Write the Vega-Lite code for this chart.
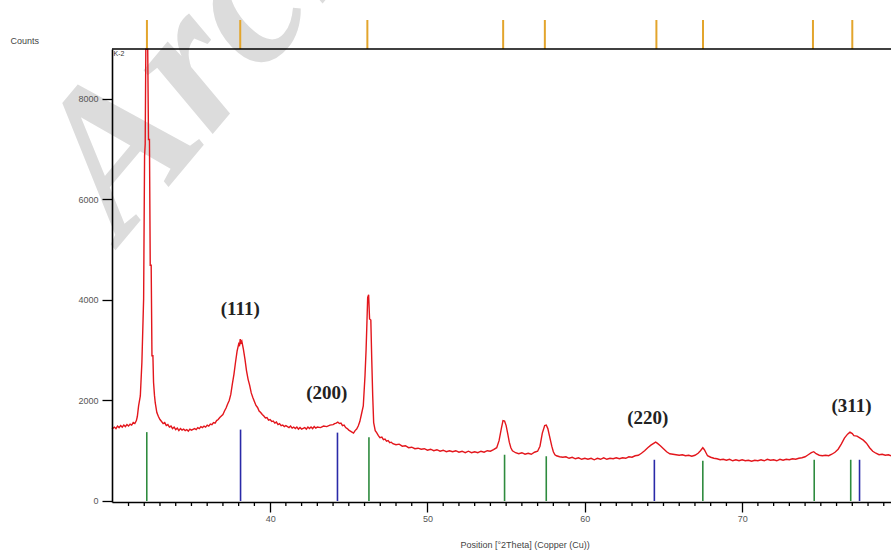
{
  "$schema": "https://vega.github.io/schema/vega-lite/v6.json",
  "width": 779,
  "height": 453,
  "autosize": {"type": "none"},
  "padding": {"left": 112, "top": 49, "right": 0, "bottom": 49},
  "background": "white",
  "config": {
    "view": {"stroke": null},
    "axis": {"labelFont": "Liberation Sans", "titleFont": "Liberation Sans", "grid": false}
  },
  "datasets": {
    "curve": [
      {"t":29.95,"c":1430},{"t":30.1,"c":1470},{"t":30.2,"c":1440},{"t":30.3,"c":1490},{"t":30.4,"c":1460},{"t":30.5,"c":1500},{"t":30.6,"c":1470},{"t":30.7,"c":1510},{"t":30.8,"c":1480},{"t":30.9,"c":1520},
      {"t":31.0,"c":1490},{"t":31.1,"c":1530},{"t":31.2,"c":1510},{"t":31.3,"c":1560},{"t":31.4,"c":1540},{"t":31.5,"c":1600},{"t":31.56,"c":1680},{"t":31.64,"c":1890},{"t":31.75,"c":2090},{"t":31.85,"c":2760},
      {"t":31.96,"c":4020},{"t":32.02,"c":6860},{"t":32.06,"c":7100},{"t":32.1,"c":8985},{"t":32.22,"c":8985},{"t":32.27,"c":7190},{"t":32.33,"c":7190},{"t":32.38,"c":4690},{"t":32.44,"c":4690},{"t":32.49,"c":2890},
      {"t":32.55,"c":2890},{"t":32.59,"c":2360},{"t":32.65,"c":2100},{"t":32.7,"c":1950},{"t":32.8,"c":1760},{"t":32.9,"c":1680},{"t":33.0,"c":1620},{"t":33.1,"c":1580},{"t":33.2,"c":1540},{"t":33.3,"c":1560},
      {"t":33.4,"c":1500},{"t":33.5,"c":1520},{"t":33.6,"c":1470},{"t":33.7,"c":1490},{"t":33.8,"c":1440},{"t":33.9,"c":1470},{"t":34.0,"c":1420},{"t":34.1,"c":1450},{"t":34.2,"c":1400},{"t":34.3,"c":1440},
      {"t":34.4,"c":1410},{"t":34.5,"c":1430},{"t":34.6,"c":1400},{"t":34.7,"c":1420},{"t":34.8,"c":1390},{"t":34.9,"c":1430},{"t":35.0,"c":1410},{"t":35.2,"c":1440},{"t":35.3,"c":1420},{"t":35.4,"c":1460},
      {"t":35.5,"c":1440},{"t":35.6,"c":1480},{"t":35.7,"c":1460},{"t":35.8,"c":1490},{"t":35.9,"c":1470},{"t":36.0,"c":1510},{"t":36.1,"c":1490},{"t":36.2,"c":1530},{"t":36.3,"c":1520},{"t":36.4,"c":1560},
      {"t":36.5,"c":1550},{"t":36.6,"c":1600},{"t":36.7,"c":1620},{"t":36.8,"c":1660},{"t":36.9,"c":1690},{"t":37.0,"c":1720},{"t":37.1,"c":1790},{"t":37.2,"c":1850},{"t":37.3,"c":1930},{"t":37.4,"c":2000},
      {"t":37.5,"c":2120},{"t":37.6,"c":2330},{"t":37.7,"c":2520},{"t":37.8,"c":2760},{"t":37.9,"c":2980},{"t":38.0,"c":3120},{"t":38.05,"c":3080},{"t":38.1,"c":3220},{"t":38.15,"c":3150},{"t":38.2,"c":3180},
      {"t":38.3,"c":3020},{"t":38.4,"c":2820},{"t":38.5,"c":2590},{"t":38.6,"c":2420},{"t":38.7,"c":2300},{"t":38.8,"c":2150},{"t":38.9,"c":2060},{"t":39.0,"c":1980},{"t":39.1,"c":1900},{"t":39.2,"c":1860},
      {"t":39.3,"c":1790},{"t":39.4,"c":1760},{"t":39.5,"c":1720},{"t":39.6,"c":1690},{"t":39.7,"c":1650},{"t":39.8,"c":1660},{"t":39.9,"c":1610},{"t":40.0,"c":1620},{"t":40.1,"c":1580},{"t":40.2,"c":1590},
      {"t":40.3,"c":1550},{"t":40.4,"c":1570},{"t":40.5,"c":1520},{"t":40.6,"c":1540},{"t":40.7,"c":1500},{"t":40.8,"c":1510},{"t":40.9,"c":1480},{"t":41.0,"c":1500},{"t":41.2,"c":1460},{"t":41.3,"c":1490},
      {"t":41.4,"c":1450},{"t":41.5,"c":1470},{"t":41.6,"c":1440},{"t":41.7,"c":1470},{"t":41.8,"c":1430},{"t":41.9,"c":1460},{"t":42.0,"c":1430},{"t":42.2,"c":1460},{"t":42.3,"c":1430},{"t":42.4,"c":1470},
      {"t":42.5,"c":1440},{"t":42.6,"c":1470},{"t":42.7,"c":1440},{"t":42.8,"c":1480},{"t":42.9,"c":1450},{"t":43.0,"c":1470},{"t":43.2,"c":1460},{"t":43.4,"c":1490},{"t":43.6,"c":1480},{"t":43.8,"c":1510},
      {"t":44.0,"c":1520},{"t":44.1,"c":1540},{"t":44.2,"c":1550},{"t":44.3,"c":1570},{"t":44.4,"c":1540},{"t":44.5,"c":1550},{"t":44.6,"c":1500},{"t":44.7,"c":1510},{"t":44.8,"c":1460},{"t":44.9,"c":1440},
      {"t":45.0,"c":1410},{"t":45.1,"c":1390},{"t":45.2,"c":1370},{"t":45.3,"c":1350},{"t":45.4,"c":1400},{"t":45.5,"c":1430},{"t":45.6,"c":1490},{"t":45.7,"c":1580},{"t":45.8,"c":1720},{"t":45.92,"c":1890},
      {"t":46.03,"c":2490},{"t":46.1,"c":3020},{"t":46.14,"c":3420},{"t":46.2,"c":4050},{"t":46.26,"c":4100},{"t":46.32,"c":3620},{"t":46.4,"c":3600},{"t":46.46,"c":2800},{"t":46.52,"c":2090},{"t":46.58,"c":1560},
      {"t":46.68,"c":1400},{"t":46.77,"c":1360},{"t":46.88,"c":1300},{"t":46.98,"c":1260},{"t":47.1,"c":1270},{"t":47.2,"c":1220},{"t":47.3,"c":1230},{"t":47.4,"c":1190},{"t":47.5,"c":1200},{"t":47.6,"c":1160},
      {"t":47.7,"c":1170},{"t":47.8,"c":1140},{"t":48.0,"c":1120},{"t":48.2,"c":1130},{"t":48.4,"c":1090},{"t":48.6,"c":1100},{"t":48.8,"c":1060},{"t":49.0,"c":1070},{"t":49.2,"c":1040},{"t":49.4,"c":1050},
      {"t":49.6,"c":1030},{"t":49.8,"c":1040},{"t":50.0,"c":1010},{"t":50.2,"c":1030},{"t":50.4,"c":1000},{"t":50.6,"c":1020},{"t":50.8,"c":990},{"t":51.0,"c":1010},{"t":51.2,"c":980},{"t":51.4,"c":1000},
      {"t":51.6,"c":980},{"t":51.8,"c":1000},{"t":52.0,"c":970},{"t":52.2,"c":990},{"t":52.4,"c":960},{"t":52.6,"c":990},{"t":52.8,"c":960},{"t":53.0,"c":980},{"t":53.2,"c":960},{"t":53.4,"c":990},
      {"t":53.6,"c":970},{"t":53.8,"c":1000},{"t":54.0,"c":990},{"t":54.2,"c":1020},{"t":54.4,"c":1060},{"t":54.55,"c":1200},{"t":54.7,"c":1450},{"t":54.8,"c":1600},{"t":54.9,"c":1590},{"t":55.0,"c":1500},
      {"t":55.1,"c":1340},{"t":55.2,"c":1170},{"t":55.3,"c":1060},{"t":55.4,"c":1000},{"t":55.5,"c":980},{"t":55.6,"c":960},{"t":55.8,"c":940},{"t":56.0,"c":960},{"t":56.2,"c":930},{"t":56.4,"c":950},
      {"t":56.6,"c":930},{"t":56.8,"c":970},{"t":57.0,"c":990},{"t":57.15,"c":1090},{"t":57.3,"c":1350},{"t":57.45,"c":1500},{"t":57.55,"c":1510},{"t":57.65,"c":1440},{"t":57.75,"c":1300},{"t":57.9,"c":1090},
      {"t":58.0,"c":980},{"t":58.1,"c":920},{"t":58.2,"c":900},{"t":58.4,"c":880},{"t":58.6,"c":870},{"t":58.8,"c":880},{"t":59.0,"c":850},{"t":59.2,"c":870},{"t":59.4,"c":840},{"t":59.6,"c":860},
      {"t":59.8,"c":830},{"t":60.0,"c":850},{"t":60.2,"c":830},{"t":60.4,"c":850},{"t":60.6,"c":820},{"t":60.8,"c":850},{"t":61.0,"c":830},{"t":61.2,"c":860},{"t":61.4,"c":830},{"t":61.6,"c":850},
      {"t":61.8,"c":840},{"t":62.0,"c":860},{"t":62.2,"c":840},{"t":62.4,"c":860},{"t":62.6,"c":850},{"t":62.8,"c":880},{"t":63.0,"c":870},{"t":63.2,"c":900},{"t":63.4,"c":910},{"t":63.6,"c":950},
      {"t":63.8,"c":1000},{"t":64.0,"c":1060},{"t":64.2,"c":1110},{"t":64.4,"c":1150},{"t":64.5,"c":1170},{"t":64.6,"c":1150},{"t":64.8,"c":1100},{"t":65.0,"c":1040},{"t":65.2,"c":980},{"t":65.4,"c":940},
      {"t":65.6,"c":930},{"t":65.8,"c":920},{"t":66.0,"c":910},{"t":66.2,"c":920},{"t":66.4,"c":900},{"t":66.6,"c":910},{"t":66.8,"c":890},{"t":67.0,"c":910},{"t":67.2,"c":950},{"t":67.35,"c":1000},
      {"t":67.5,"c":1060},{"t":67.6,"c":1020},{"t":67.7,"c":960},{"t":67.8,"c":900},{"t":68.0,"c":870},{"t":68.2,"c":850},{"t":68.4,"c":840},{"t":68.6,"c":820},{"t":68.8,"c":830},{"t":69.0,"c":810},
      {"t":69.2,"c":830},{"t":69.4,"c":800},{"t":69.6,"c":820},{"t":69.8,"c":800},{"t":70.0,"c":820},{"t":70.2,"c":800},{"t":70.4,"c":810},{"t":70.6,"c":790},{"t":70.8,"c":810},{"t":71.0,"c":800},
      {"t":71.2,"c":820},{"t":71.4,"c":800},{"t":71.6,"c":830},{"t":71.8,"c":810},{"t":72.0,"c":820},{"t":72.2,"c":800},{"t":72.4,"c":830},{"t":72.6,"c":810},{"t":72.8,"c":830},{"t":73.0,"c":820},
      {"t":73.2,"c":840},{"t":73.4,"c":830},{"t":73.6,"c":850},{"t":73.8,"c":860},{"t":74.0,"c":880},{"t":74.2,"c":920},{"t":74.4,"c":960},{"t":74.55,"c":980},{"t":74.7,"c":940},{"t":74.9,"c":910},
      {"t":75.1,"c":900},{"t":75.3,"c":910},{"t":75.5,"c":900},{"t":75.7,"c":930},{"t":75.9,"c":970},{"t":76.1,"c":1030},{"t":76.3,"c":1130},{"t":76.5,"c":1250},{"t":76.7,"c":1330},{"t":76.85,"c":1370},
      {"t":77.0,"c":1340},{"t":77.1,"c":1300},{"t":77.3,"c":1290},{"t":77.5,"c":1250},{"t":77.7,"c":1210},{"t":77.9,"c":1150},{"t":78.1,"c":1060},{"t":78.3,"c":990},{"t":78.5,"c":950},{"t":78.7,"c":920},
      {"t":78.9,"c":930},{"t":79.1,"c":910},{"t":79.3,"c":920},{"t":79.46,"c":900}
    ],
    "sticks": [
      {"t":32.16,"h":1370,"base":0,"phase":"AgCl"},{"t":46.28,"h":1270,"base":0,"phase":"AgCl"},{"t":54.9,"h":920,"base":0,"phase":"AgCl"},{"t":57.55,"h":890,"base":0,"phase":"AgCl"},{"t":67.5,"h":800,"base":0,"phase":"AgCl"},{"t":74.58,"h":820,"base":0,"phase":"AgCl"},{"t":76.9,"h":820,"base":0,"phase":"AgCl"},
      {"t":38.12,"h":1420,"base":0,"phase":"Ag"},{"t":44.28,"h":1360,"base":0,"phase":"Ag"},{"t":64.42,"h":820,"base":0,"phase":"Ag"},{"t":77.46,"h":820,"base":0,"phase":"Ag"}
    ],
    "peaks": [{"t":32.17,"lo":8990,"hi":9567},{"t":38.1,"lo":8990,"hi":9567},{"t":46.18,"lo":8990,"hi":9567},{"t":54.81,"lo":8990,"hi":9567},{"t":57.46,"lo":8990,"hi":9567},{"t":64.55,"lo":8990,"hi":9567},{"t":67.51,"lo":8990,"hi":9567},{"t":74.5,"lo":8990,"hi":9567},{"t":77.0,"lo":8990,"hi":9567}],
    "minor": [
      {"t":31,"lo":-20,"hi":-100},{"t":32,"lo":-20,"hi":-100},{"t":33,"lo":-20,"hi":-100},{"t":34,"lo":-20,"hi":-100},{"t":35,"lo":-20,"hi":-100},{"t":36,"lo":-20,"hi":-100},{"t":37,"lo":-20,"hi":-100},{"t":38,"lo":-20,"hi":-100},{"t":39,"lo":-20,"hi":-100},
      {"t":41,"lo":-20,"hi":-100},{"t":42,"lo":-20,"hi":-100},{"t":43,"lo":-20,"hi":-100},{"t":44,"lo":-20,"hi":-100},{"t":45,"lo":-20,"hi":-100},{"t":46,"lo":-20,"hi":-100},{"t":47,"lo":-20,"hi":-100},{"t":48,"lo":-20,"hi":-100},{"t":49,"lo":-20,"hi":-100},
      {"t":51,"lo":-20,"hi":-100},{"t":52,"lo":-20,"hi":-100},{"t":53,"lo":-20,"hi":-100},{"t":54,"lo":-20,"hi":-100},{"t":55,"lo":-20,"hi":-100},{"t":56,"lo":-20,"hi":-100},{"t":57,"lo":-20,"hi":-100},{"t":58,"lo":-20,"hi":-100},{"t":59,"lo":-20,"hi":-100},
      {"t":61,"lo":-20,"hi":-100},{"t":62,"lo":-20,"hi":-100},{"t":63,"lo":-20,"hi":-100},{"t":64,"lo":-20,"hi":-100},{"t":65,"lo":-20,"hi":-100},{"t":66,"lo":-20,"hi":-100},{"t":67,"lo":-20,"hi":-100},{"t":68,"lo":-20,"hi":-100},{"t":69,"lo":-20,"hi":-100},
      {"t":71,"lo":-20,"hi":-100},{"t":72,"lo":-20,"hi":-100},{"t":73,"lo":-20,"hi":-100},{"t":74,"lo":-20,"hi":-100},{"t":75,"lo":-20,"hi":-100},{"t":76,"lo":-20,"hi":-100},{"t":77,"lo":-20,"hi":-100},{"t":78,"lo":-20,"hi":-100},{"t":79,"lo":-20,"hi":-100}
    ],
    "border": [{"c": 8990}],
    "labels": [
      {"t":38.1,"c":3820,"txt":"(111)"},{"t":43.6,"c":2140,"txt":"(200)"},{"t":64.0,"c":1660,"txt":"(220)"},{"t":76.95,"c":1880,"txt":"(311)"}
    ],
    "tag": [{"t": 30.05, "c": 8895, "txt": "K-2"}],
    "mark": [{"t": 30.6, "c": 5150, "txt": "Archive of SID"}]
  },
  "layer": [
    {
      "data": {"name": "mark"},
      "mark": {"type": "text", "font": "Liberation Serif", "fontWeight": "bold", "fontStyle": "italic", "fontSize": 205, "color": "#dcdcdc", "align": "left", "baseline": "alphabetic", "angle": -50},
      "encoding": {
        "x": {"field": "t", "type": "quantitative"},
        "y": {"field": "c", "type": "quantitative"},
        "text": {"field": "txt"}
      }
    },
    {
      "data": {"name": "curve"},
      "mark": {"type": "line", "color": "#e3161c", "strokeWidth": 1.4, "interpolate": "linear"},
      "encoding": {
        "x": {"field": "t", "type": "quantitative", "scale": {"domain": [29.95, 79.46], "nice": false, "zero": false},
              "axis": {"values": [40, 50, 60, 70], "zindex": 2, "labelOverlap": false,
                       "tickSize": 10, "tickWidth": 1.3, "tickColor": "#000",
                       "domainColor": "#000", "domainWidth": 1.6, "labelFontSize": 9, "labelColor": "#555", "labelPadding": 2,
                       "title": "Position [°2Theta] (Copper (Cu))", "titleFontSize": 9, "titleFontWeight": "normal", "titleColor": "#444",
                       "titleAnchor": "start", "titleAlign": "left", "titleX": 348, "titleY": 42, "titleBaseline": "middle"}},
        "y": {"field": "c", "type": "quantitative", "scale": {"domain": [-20, 8990], "nice": false, "zero": false},
              "axis": {"values": [0, 2000, 4000, 6000, 8000], "format": "d", "zindex": 2, "tickSize": 10, "tickWidth": 1.3, "tickColor": "#000",
                       "domainColor": "#000", "domainWidth": 1.6, "labelFontSize": 9, "labelColor": "#555", "labelPadding": 4,
                       "title": "Counts", "titleFontSize": 9, "titleFontWeight": "normal", "titleColor": "#444", "titleAngle": 0,
                       "titleAlign": "left", "titleX": -102, "titleY": -9, "titleBaseline": "middle"}}
      }
    },
    {
      "data": {"name": "minor"},
      "mark": {"type": "rule", "strokeWidth": 1.3, "color": "#000"},
      "encoding": {
        "x": {"field": "t", "type": "quantitative"},
        "y": {"field": "lo", "type": "quantitative"},
        "y2": {"field": "hi"}
      }
    },
    {
      "data": {"name": "sticks"},
      "mark": {"type": "rule", "strokeWidth": 1.6},
      "encoding": {
        "x": {"field": "t", "type": "quantitative"},
        "y": {"field": "base", "type": "quantitative"},
        "y2": {"field": "h"},
        "color": {"field": "phase", "type": "nominal", "scale": {"domain": ["AgCl", "Ag"], "range": ["#2e8b3e", "#2a2aa8"]}, "legend": null}
      }
    },
    {
      "data": {"name": "peaks"},
      "mark": {"type": "rule", "strokeWidth": 2, "color": "#e3a52c"},
      "encoding": {
        "x": {"field": "t", "type": "quantitative"},
        "y": {"field": "lo", "type": "quantitative"},
        "y2": {"field": "hi"}
      }
    },
    {
      "data": {"name": "border"},
      "mark": {"type": "rule", "color": "#000", "strokeWidth": 1.6},
      "encoding": {
        "y": {"field": "c", "type": "quantitative"}
      }
    },
    {
      "data": {"name": "labels"},
      "mark": {"type": "text", "font": "Liberation Serif", "fontWeight": "bold", "fontSize": 19, "color": "#222", "align": "center", "baseline": "middle"},
      "encoding": {
        "x": {"field": "t", "type": "quantitative"},
        "y": {"field": "c", "type": "quantitative"},
        "text": {"field": "txt"}
      }
    },
    {
      "data": {"name": "tag"},
      "mark": {"type": "text", "font": "Liberation Sans", "fontSize": 7, "color": "#333", "align": "left", "baseline": "middle"},
      "encoding": {
        "x": {"field": "t", "type": "quantitative"},
        "y": {"field": "c", "type": "quantitative"},
        "text": {"field": "txt"}
      }
    }
  ]
}
